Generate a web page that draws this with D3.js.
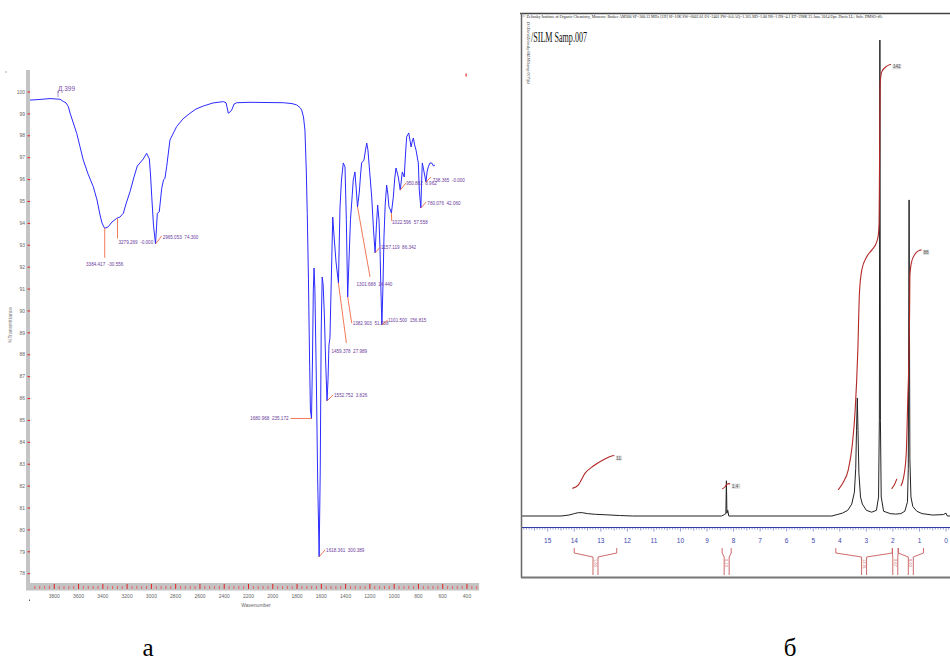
<!DOCTYPE html>
<html><head><meta charset="utf-8">
<script src="https://cdn.jsdelivr.net/npm/d3@7"></script>
<style>body{margin:0;background:#fff}svg{display:block}</style>
</head><body>
<script>
// ---------- IR spectrum data (panel а) ----------
const irWavenumber = [4000,3918,3835,3786,3753,3726,3703,3684,3670,3646,3615,3588,3561,3522,3479,3448,3423,3407,3388,3374,3355,3325,3286,3259,3231,3209,3176,3143,3116,3094,3067,3039,3017,3007,2997,2983,2966,2951,2935,2915,2900,2888,2874,2847,2792,2740,2682,2633,2572,2492,2408,2385,2366,2352,2338,2319,2297,2188,2064,1913,1842,1803,1776,1762,1747,1735,1724,1716,1706,1698,1690,1681,1673,1666,1660,1653,1641,1630,1618,1609,1601,1593,1585,1575,1565,1553,1545,1537,1529,1516,1506,1496,1479,1459,1452,1446,1434,1419,1405,1394,1383,1372,1360,1350,1337,1323,1312,1302,1287,1277,1268,1249,1236,1226,1216,1205,1185,1170,1157,1146,1136,1125,1117,1109,1101,1092,1084,1074,1062,1051,1043,1030,1023,1007,995,985,966,950,933,917,907,897,880,870,861,852,842,831,820,810,801,793,780,775,768,757,738,729,719,705,691,676,664];
const irTransmittance = [99.63,99.66,99.70,99.68,99.67,99.57,99.50,99.33,99.04,98.63,98.11,97.50,96.89,96.26,95.68,95.07,94.38,94.02,93.80,93.79,93.85,94.06,94.23,94.29,94.46,94.89,95.45,96.12,96.62,96.76,96.94,97.20,96.95,96.21,95.22,93.93,93.06,94.46,94.53,95.60,95.98,96.06,96.59,97.81,98.42,98.77,99.03,99.22,99.36,99.50,99.56,99.51,99.03,99.09,99.18,99.45,99.51,99.53,99.52,99.51,99.47,99.41,99.29,99.18,98.86,98.26,96.44,94.46,91.42,88.22,85.48,85.09,87.76,90.96,91.96,90.96,86.85,82.28,78.77,82.74,89.13,91.55,91.19,89.82,87.76,85.89,86.85,88.45,88.77,91.87,94.29,93.47,92.24,91.28,93.24,94.75,95.98,96.76,96.58,94.16,90.64,92.33,94.16,94.93,95.98,96.35,95.53,94.75,95.43,96.21,96.76,96.89,97.35,97.67,97.35,96.58,95.20,93.70,92.65,93.93,94.84,94.16,92.92,90.96,89.36,91.19,93.38,94.84,95.75,95.29,94.75,94.61,94.47,95.20,96.07,96.53,96.12,95.52,96.35,96.12,97.12,97.95,98.13,97.81,97.49,97.72,97.90,97.58,97.35,97.03,96.76,95.52,94.70,95.75,96.76,96.44,95.89,96.35,96.58,96.76,96.76,96.62,96.67];
const irYTicks = [100,99,98,97,96,95,94,93,92,91,90,89,88,87,86,85,84,83,82,81,80,79,78];
const irXTickLabels = [3800,3600,3400,3200,3000,2800,2600,2400,2200,2000,1800,1600,1400,1200,1000,800,600,400];
const irPeakWn = [3384.417,3279.269,2965.053,1680.968,1618.361,1552.752,1459.378,1382.903,1301.688,1157.119,1101.500,1022.596,950.882,780.076,738.365];
const irPeakT = [93.80,94.23,93.06,85.09,78.77,85.89,91.28,90.64,94.75,92.65,89.36,94.47,95.52,94.70,95.89];
const irPeakText = ["3384.417  -30.556","3279.269  -0.000","2965.053  74.300","1680.968  235.172","1618.361  300.389","1552.752  3.826","1459.378  27.989","1382.903  51.588","1301.688  14.440","1157.119  86.342","1101.500  156.815","1022.596  57.558","950.882  8.962","780.076  42.060","738.365  -0.000"];
const irSampleName = "Д.399";

// ---------- 1H NMR data (panel б) ----------
const nmrPpm = [15.96,14.5,14.2,14.0,13.85,13.7,13.5,13.2,12.8,12.3,11.8,8.45,8.35,8.29,8.27,8.25,8.22,8.18,4.3,4.1,3.9,3.7,3.55,3.45,3.40,3.37,3.34,3.31,3.28,3.22,3.15,3.0,2.8,2.62,2.54,2.51,2.49,2.47,2.44,2.35,2.1,1.9,1.7,1.55,1.45,1.42,1.39,1.36,1.32,1.25,1.1,0.9,0.5,0.1,0.0,-0.05,-0.15];
const nmrIntensity = [0,0,0.2,0.5,0.7,0.7,0.5,0.35,0.25,0.1,0,0,0.3,0.5,7.4,0.6,1.2,0,0,0.3,0.6,1.2,2.5,5,10,18,24.8,17,9,4,2.5,1.2,0.8,1.2,4,20,100,20,4,1,0.5,0.4,0.5,1,3,10,66.4,12,4,2,1,0.5,0.2,0.3,0.6,0,0];
const nmrTickLabels = [15,14,13,12,11,10,9,8,7,6,5,4,3,2,1,0];
const nmrIntegrals = [
  {ppm:[14.07,13.85,13.59,13.28,12.9,12.59,12.49], val:[5.8,6.5,9.0,10.5,11.8,12.6,12.7], label:"11"},
  {ppm:[8.43,8.31,8.25,8.13], val:[5.7,6.2,6.7,6.8], label:"1.4"},
  {ppm:[4.06,3.87,3.68,3.53,3.42,3.32,3.26,3.17,2.98,2.79,2.61,2.55,2.52,2.51,2.48,2.42,2.23,2.07], val:[5.5,7.1,9.7,14.9,22.3,34.9,46.8,51.7,54.5,55.9,57.6,59,61.6,67.9,90.9,93.3,94.5,94.9], label:"142"},
  {ppm:[2.05,1.95,1.85], val:[5.7,6.5,7.8], label:""},
  {ppm:[1.7,1.6,1.5,1.44,1.39,1.37,1.36,1.3,1.17,1.04,0.92], val:[6.3,8.0,12.8,24.4,34.9,43.3,50.5,53.3,55.0,55.7,55.9], label:"88"}
];
const nmrBracketFrom = [14.0,8.43,4.15,2.02,1.8];
const nmrBracketTo = [12.4,8.09,2.02,1.8,0.85];
const nmrBracketText = ["1.00","0.13","12.91","0.67","8.00"];
const nmrTitle = "/SILM Samp.007";
const nmrHeader = "© Zelinsky Institute of Organic Chemistry, Moscow; Bruker AM300 SF=300.13 MHz  [1H]  SI=16K  SW=6002.01  O1=2401  PW=0.0 AQ=1.365 RD=1.00  NS=1  DS=4.1 ET=298K  25 June 2014  Opr. Davis LL;  Solv. DMSO-d6;";

// ---------- drawing ----------
const W = 950, H = 663;
const svg = d3.select("body").append("svg").attr("width", W).attr("height", H);

// ===== Panel а : IR =====
const ix = d3.scaleLinear().domain([4000, 400]).range([30, 467]);
const iy = d3.scaleLinear().domain([100, 78]).range([92, 573.7]);
const gA = svg.append("g");

gA.append("rect").attr("x", 26).attr("y", 70).attr("width", 4).attr("height", 520).attr("fill", "#c4c4c4");
gA.append("rect").attr("x", 26).attr("y", 583).attr("width", ix(300) - 26).attr("height", 7.5).attr("fill", "#c4c4c4");

irYTicks.forEach(v => {
  gA.append("line").attr("x1", 27.5).attr("x2", 30).attr("y1", iy(v)).attr("y2", iy(v))
    .attr("stroke", "#e02020").attr("stroke-width", 1);
  gA.append("text").attr("x", 25).attr("y", iy(v) + 1.7).attr("text-anchor", "end")
    .attr("font-family", "Liberation Sans Narrow, Arial Narrow, Liberation Sans, sans-serif")
    .attr("font-size", 5).attr("fill", "#666").text(v);
});
d3.range(3960, 300, -40).forEach(v => {
  const major = v % 200 === 0;
  gA.append("line").attr("x1", ix(v)).attr("x2", ix(v)).attr("y1", major ? 584 : 586).attr("y2", 589)
    .attr("stroke", major ? "#e02020" : "#e86060").attr("stroke-width", 1);
});
irXTickLabels.forEach(v => {
  gA.append("text").attr("x", ix(v)).attr("y", 598).attr("text-anchor", "middle")
    .attr("font-family", "Liberation Sans, sans-serif").attr("font-size", 5).attr("fill", "#666").text(v);
});
gA.append("text").attr("x", 256).attr("y", 607).attr("text-anchor", "middle")
  .attr("font-family", "Liberation Sans, sans-serif").attr("font-size", 5).attr("fill", "#666").text("Wavenumber");
gA.append("text").attr("transform", "translate(12,325) rotate(-90)").attr("text-anchor", "middle")
  .attr("font-family", "Liberation Sans, sans-serif").attr("font-size", 5).attr("fill", "#777").text("%Transmittance");
gA.append("rect").attr("x", 5.5).attr("y", 71.5).attr("width", 1).attr("height", 1).attr("fill", "#555");
gA.append("rect").attr("x", 29).attr("y", 599.5).attr("width", 1).attr("height", 1.5).attr("fill", "#555");
gA.append("rect").attr("x", 465.5).attr("y", 73.5).attr("width", 1.2).attr("height", 3).attr("fill", "#e03030");

gA.append("text").attr("x", 58).attr("y", 91).attr("font-family", "Liberation Sans, sans-serif")
  .attr("font-size", 6.5).attr("fill", "#7b4aa8").text(irSampleName);
gA.append("line").attr("x1", 58).attr("x2", 58).attr("y1", 91).attr("y2", 97).attr("stroke", "#7b4aa8").attr("stroke-width", 0.6);

const irLine = d3.line().x((d, i) => ix(irWavenumber[i])).y((d, i) => iy(irTransmittance[i]));
gA.append("path").attr("d", irLine(irWavenumber)).attr("fill", "none")
  .attr("stroke", "#2b2bff").attr("stroke-width", 1).attr("stroke-linejoin", "round");

const irLabelLayout = [
  [0,30, 0,38,"middle"], [0,20, 1,26,"start"], [6,-8, 7,-5,"start"], [-21,0, -23,2,"end"],
  [6,-7, 7,-5,"start"], [6,-6, 7,-4,"start"], [8,60, -7,70,"start"], [4,26, 5,28,"start"],
  [12.5,70, -1,79,"start"], [5.3,-6, 6,-4,"start"], [6,-5, 6.5,-2.5,"start"], [0.3,8, 0.6,11,"start"],
  [5.8,-7, 6,-5,"start"], [5.2,-6, 6.5,-3.5,"start"], [5.1,-5, 6.8,0,"start"]
];
irPeakWn.forEach((w, i) => {
  const px = ix(w), py = iy(irPeakT[i]);
  const L = irLabelLayout[i];
  gA.append("line").attr("x1", px).attr("y1", py).attr("x2", px + L[0]).attr("y2", py + L[1])
    .attr("stroke", "#ee6a45").attr("stroke-width", 0.9);
  gA.append("text").attr("x", px + L[2]).attr("y", py + L[3]).attr("text-anchor", L[4])
    .attr("font-family", "Liberation Sans, sans-serif").attr("font-size", 4.6)
    .attr("fill", "#6c3c9c").attr("xml:space", "preserve").text(irPeakText[i]);
});

// ===== Panel б : NMR =====
const nx = d3.scaleLinear().domain([15, 0]).range([547.7, 946]);
const ny = d3.scaleLinear().domain([0, 100]).range([516, 40]);
const gB = svg.append("g");

gB.append("line").attr("x1", 520).attr("x2", 950).attr("y1", 13.5).attr("y2", 13.5).attr("stroke", "#444").attr("stroke-width", 1.5);
gB.append("line").attr("x1", 521.5).attr("x2", 521.5).attr("y1", 13).attr("y2", 578).attr("stroke", "#666").attr("stroke-width", 1.5);
gB.append("line").attr("x1", 521).attr("x2", 950).attr("y1", 577.5).attr("y2", 577.5).attr("stroke", "#777").attr("stroke-width", 2);

gB.append("text").attr("x", 522.5).attr("y", 18).attr("font-family", "Liberation Serif, serif")
  .attr("font-size", 4.6).attr("fill", "#222").attr("textLength", 360).attr("lengthAdjust", "spacingAndGlyphs").text(nmrHeader);
gB.append("text").attr("transform", "translate(527,22) rotate(90)").attr("font-family", "Liberation Serif, serif")
  .attr("font-style", "italic").attr("font-size", 4.5).attr("fill", "#333").attr("textLength", 62)
  .attr("lengthAdjust", "spacingAndGlyphs").text("D:\\Data\\Zelinsky\\SILM\\Samp.007\\fid");
gB.append("text").attr("x", 531).attr("y", 41.5).attr("font-family", "Liberation Serif, serif")
  .attr("font-size", 14).attr("fill", "#111").attr("textLength", 56).attr("lengthAdjust", "spacingAndGlyphs").text(nmrTitle);

gB.append("line").attr("x1", 522).attr("x2", 950).attr("y1", 527.5).attr("y2", 527.5).attr("stroke", "#2f3aa8").attr("stroke-width", 1);
d3.range(-1, 160).forEach(k => {
  const v = k / 10;
  const xx = nx(v);
  if (xx < 523 || xx > 950) return;
  const len = (k % 10 === 0) ? 4 : (k % 5 === 0 ? 3 : 2);
  gB.append("line").attr("x1", xx).attr("x2", xx).attr("y1", 527.5).attr("y2", 527.5 + len)
    .attr("stroke", "#4a55b8").attr("stroke-width", 0.6);
});
nmrTickLabels.forEach(v => {
  gB.append("text").attr("x", nx(v)).attr("y", 542.5).attr("text-anchor", "middle")
    .attr("font-family", "Liberation Sans, sans-serif").attr("font-size", 6.5).attr("fill", "#3a46b0").text(v);
});

const nmrLine = d3.line().x((d, i) => nx(nmrPpm[i])).y((d, i) => ny(nmrIntensity[i]));
gB.append("path").attr("d", nmrLine(nmrPpm)).attr("fill", "none").attr("stroke", "#222")
  .attr("stroke-width", 1).attr("stroke-linejoin", "round");

nmrIntegrals.forEach(it => {
  const ln = d3.line().curve(d3.curveMonotoneX).x((d, i) => nx(it.ppm[i])).y((d, i) => ny(it.val[i]));
  gB.append("path").attr("d", ln(it.ppm)).attr("fill", "none").attr("stroke", "#b42828").attr("stroke-width", 1.1);
  if (it.label) {
    const lx = nx(it.ppm[it.ppm.length - 1]) + 1.5, ly = ny(it.val[it.val.length - 1]) + 1;
    gB.append("rect").attr("x", lx).attr("y", ly - 1).attr("width", it.label.length * 2.6 + 1).attr("height", 5).attr("fill", "#ddd");
    gB.append("text").attr("x", lx + 0.5).attr("y", ly + 3).attr("font-family", "Liberation Sans, sans-serif")
      .attr("font-size", 4.5).attr("fill", "#555").text(it.label);
  }
});

nmrBracketFrom.forEach((f, i) => {
  const a = nx(f), b = nx(nmrBracketTo[i]), c = (a + b) / 2;
  const col = "#c85a5a";
  gB.append("path").attr("d", `M${a},548 V553 L${c - 2.5},557 M${b},548 V553 L${c + 2.5},557`)
    .attr("fill", "none").attr("stroke", col).attr("stroke-width", 0.9);
  gB.append("path").attr("d", `M${c - 2.5},557 V575 M${c + 2.5},557 V575`)
    .attr("fill", "none").attr("stroke", col).attr("stroke-width", 0.9);
  gB.append("text").attr("transform", `translate(${c - 1.4},559) rotate(90)`)
    .attr("font-family", "Liberation Sans, sans-serif").attr("font-size", 4).attr("fill", col).text(nmrBracketText[i]);
});

// panel captions
svg.append("text").attr("x", 148).attr("y", 656).attr("text-anchor", "middle")
  .attr("font-family", "Liberation Serif, serif").attr("font-size", 25).attr("fill", "#000").text("а");
svg.append("text").attr("x", 790).attr("y", 656).attr("text-anchor", "middle")
  .attr("font-family", "Liberation Serif, serif").attr("font-size", 25).attr("fill", "#000").text("б");
</script>
</body></html>
